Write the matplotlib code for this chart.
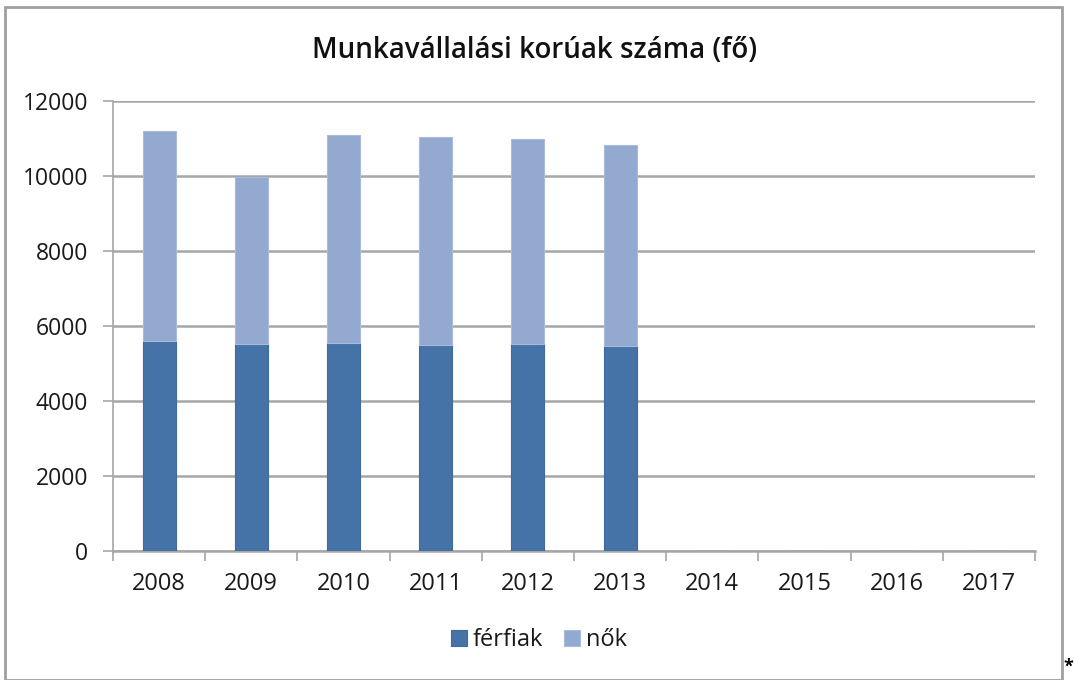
import matplotlib
matplotlib.use("Agg")
import matplotlib.pyplot as plt
from matplotlib.patches import Rectangle

years = ["2008", "2009", "2010", "2011", "2012", "2013", "2014", "2015", "2016", "2017"]
ferfiak = [5600, 5530, 5540, 5485, 5530, 5460, 0, 0, 0, 0]
nok = [5590, 4450, 5545, 5545, 5450, 5360, 0, 0, 0, 0]
yticks = [0, 2000, 4000, 6000, 8000, 10000, 12000]

plt.rcParams['font.family'] = ['Open Sans', 'DejaVu Sans']

fig = plt.figure(figsize=(10.75, 6.8), dpi=100)
ax = fig.add_axes([113/1075, 1-551/680, (1035-113)/1075, 450/680])

x = list(range(len(years)))
w = 0.36
ax.bar(x, ferfiak, width=w, color='#4572A7', edgecolor='#3F6A9E', linewidth=0.8, label='férfiak', zorder=3)
ax.bar(x, nok, width=w, bottom=ferfiak, color='#94A9D0', edgecolor='#A9BBDC', linewidth=0.8, label='nők', zorder=3)

ax.set_xlim(-0.5, len(years) - 0.5)
ax.set_ylim(0, 12000)
ax.set_yticks(yticks)
ax.set_yticklabels([str(v) for v in yticks], fontsize=16.5, color='#1A1A1A')
ax.yaxis.grid(True, color='#A6A6A6', linewidth=1.8, zorder=0)
ax.set_xticks(x)
ax.set_xticklabels(years, fontsize=17, color='#1A1A1A')
ax.tick_params(axis='x', length=0, pad=15)
ax.set_xticks([i - 0.5 for i in range(len(years) + 1)], minor=True)
ax.tick_params(axis='x', which='minor', length=7, color='#A6A6A6', width=1.2)
ax.tick_params(axis='y', length=7, color='#A6A6A6', width=1.2, pad=11)
for s in ['top', 'right']:
    ax.spines[s].set_visible(False)
ax.spines['left'].set_color('#A6A6A6')
ax.spines['bottom'].set_color('#A6A6A6')
ax.spines['left'].set_linewidth(1.2)
ax.spines['bottom'].set_linewidth(1.8)

fig.text(535/1075, 1-50/680, 'Munkavállalási korúak száma (fő)', ha='center', va='center',
         fontsize=20, fontweight='semibold', color='#111111')

fig.legend(loc='center', bbox_to_anchor=(539/1075, 1-640/680), ncol=2, frameon=False,
           fontsize=17, handlelength=0.65, handleheight=0.65, handletextpad=0.25, columnspacing=0.9,
           labelcolor='#1A1A1A')

fig.patches.append(Rectangle((5/1075, 0.0), 1057/1075, 1-7/680, transform=fig.transFigure,
                             fill=False, edgecolor='#A0A0A0', linewidth=2))
fig.text(1068/1075, 1-667/680, '*', ha='center', va='center', fontsize=13, fontweight='bold')

fig.savefig('out.png', dpi=100)
